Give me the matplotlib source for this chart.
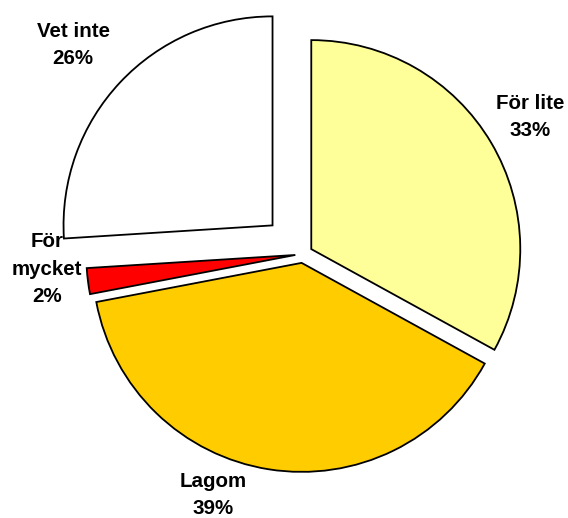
import matplotlib.pyplot as plt

labels = ["För lite", "Lagom", "För\nmycket", "Vet inte"]
values = [33, 39, 2, 26]
colors = ["#FFFF99", "#FFCC00", "#FF0000", "#FFFFFF"]
explode = [0.046, 0.043, 0.037, 0.2]

# label centres, in pie radius units
label_pos = [
    (1.086, 0.656),
    (-0.431, -1.153),
    (-1.225, -0.072),
    (-1.100, 1.000),
]

plt.rcParams["font.family"] = ["Liberation Sans", "DejaVu Sans"]

fig = plt.figure(figsize=(5.68, 5.18), dpi=100)
ax = fig.add_axes([0, 0, 1, 1])

ax.pie(
    values,
    colors=colors,
    explode=explode,
    startangle=90,
    counterclock=False,
    radius=1.0,
    wedgeprops=dict(edgecolor="black", linewidth=1.3),
)

for (x, y), lab, v in zip(label_pos, labels, values):
    ax.text(
        x, y, f"{lab}\n{v}%",
        ha="center", va="center",
        fontsize=14.8, fontweight="bold",
        linespacing=1.55,
    )

ax.set_xlim(-303 / 209, (568 - 303) / 209)
ax.set_ylim((254 - 518) / 209, 254 / 209)
ax.set_aspect("auto")
ax.axis("off")

fig.savefig("out.png", dpi=100)
